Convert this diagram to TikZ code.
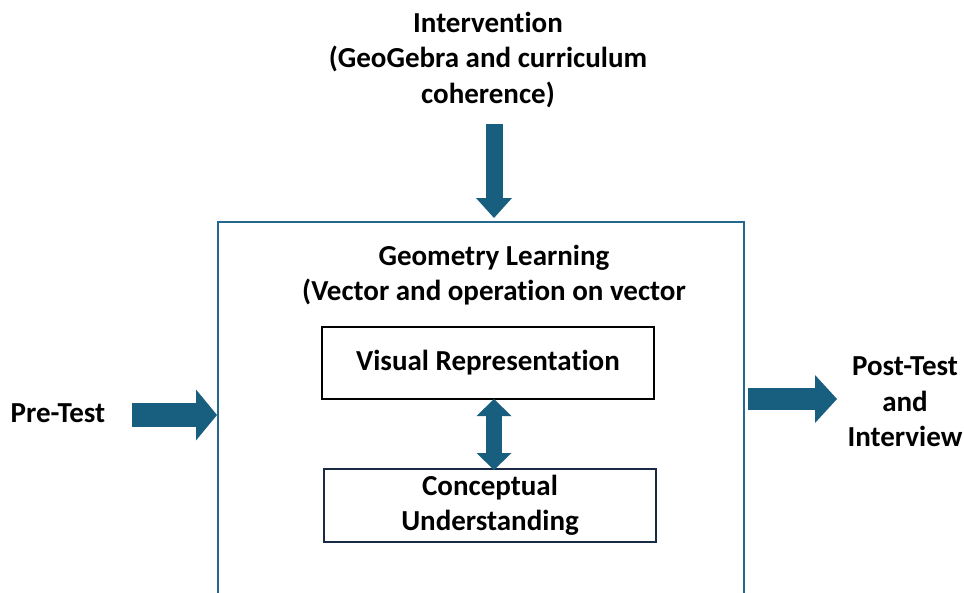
\documentclass[tikz,border=0pt]{standalone}
\usepackage{fontspec}
\setmainfont{Carlito}[Ligatures=NoCommon]
\usetikzlibrary{arrows.meta}
\definecolor{arrowblue}{RGB}{24,94,127}
\definecolor{frameblue}{RGB}{36,104,142}
\definecolor{boxnavy}{RGB}{24,42,68}

\begin{document}
\begin{tikzpicture}[x=1pt,y=-1pt,
		lbl/.style={font=\fontsize{29}{35.5}\selectfont\bfseries, align=center, inner sep=0pt},
		ibox/.style={lbl, line width=2pt, minimum width=332pt, minimum height=72pt},
		fatarrow/.style n args={3}{draw=arrowblue, line width=#1, -{Triangle[width=#2,length=#3,line width=0pt]}},
		fatdouble/.style n args={3}{draw=arrowblue, line width=#1, {Triangle[width=#2,length=#3,line width=0pt]}-{Triangle[width=#2,length=#3,line width=0pt]}}]
					\clip (0,0) rectangle (964,592);
					
					%TEXT AND BOXES
					\node[lbl] (interv) at (488,60) {Intervention\\(GeoGebra and curriculum\\coherence)};
					\node[draw=frameblue, line width=2pt, minimum width=526pt, minimum height=440pt] (learn) at (481,442) {};
					\node[lbl] (geo) at (494,275) {Geometry Learning\\(Vector and operation on vector};
					\node[ibox, draw=black] (vis) at (488,363) {Visual Representation};
					\node[ibox, draw=boxnavy, minimum height=73pt] (con) at (490,505.5) {Conceptual\\Understanding};
					\node[lbl] (pre) at (58,413) {Pre-Test};
					\node[lbl] (post) at (905,402) {Post-Test\\and\\Interview};
					
					%ARROWS
					\coordinate (intop) at (494,124);
					\coordinate (prestart) at (132,415);
					\coordinate (postend) at (837,399);
					\draw[fatarrow={17pt}{36pt}{20pt}] (intop) -- ([yshift=3pt]intop |- learn.north);
					\draw[fatarrow={24pt}{51pt}{21pt}] (prestart) -- (prestart -| learn.west);
					\draw[fatarrow={22pt}{48pt}{22pt}, shorten <=3pt] (learn.east |- postend) -- (postend);
					\draw[fatdouble={16pt}{35pt}{17pt}] ([yshift=1pt]vis.south -| 494,0) -- ([yshift=-2pt]con.north -| 494,0);
					
				  \end{tikzpicture}
\end{document}
